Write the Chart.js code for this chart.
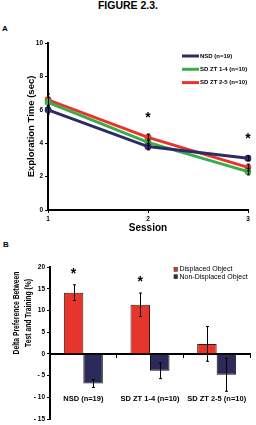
<!DOCTYPE html>
<html>
<head>
<meta charset="utf-8">
<script src="https://cdn.jsdelivr.net/npm/chart.js@4"></script>
<style>
body{margin:0;background:#fff;width:256px;height:425px;position:relative;overflow:hidden;font-family:"Liberation Sans",Arial,sans-serif}
.t{position:absolute;font-weight:bold;line-height:1;color:#000}
#wa{position:absolute;left:0;top:30px;width:256px;height:205px}
#wb{position:absolute;left:0;top:250px;width:256px;height:175px}
</style>
</head>
<body>
<div class="t" style="left:0;width:256px;top:0;text-align:center;font-size:10.5px">FIGURE 2.3.</div>
<div class="t" style="left:2px;top:25px;font-size:8px">A</div>
<div class="t" style="left:3px;top:241px;font-size:8px">B</div>
<div id="wa"><canvas id="chartA"></canvas></div>
<div id="wb"><canvas id="chartB"></canvas></div>
<script>
// panel A - exploration time per session
var sessions=['1','2','3'];
var nsdTime=[6.0,3.8,3.1];
var zt14Time=[6.45,4.05,2.3];
var zt25Time=[6.6,4.35,2.55];
var nsdTimeErr=[0.25,0.2,0.15];
var zt14TimeErr=[0.3,0.2,0.2];
var zt25TimeErr=[0.35,0.2,0.2];
var sigSessions=[1,2];

// panel B - delta preference
var groups=['NSD (n=19)','SD ZT 1-4 (n=10)','SD ZT 2-5 (n=10)'];
var displaced=[14.1,11.3,2.3];
var displacedErr=[1.8,2.7,4.0];
var nonDisplaced=[-6.8,-3.9,-4.8];
var nonDisplacedErr=[0.9,1.8,3.8];
var sigGroups=[0,1];

var navy='#2d2b66', green='#3aac48', red='#e8352c', navyBar='#2b2a58';
var FONT='"Liberation Sans", Arial, sans-serif';
Chart.defaults.font.family=FONT;
Chart.defaults.color='#000';

var errorBars={
  id:'errorBars',
  afterDatasetsDraw:function(chart){
    var ctx=chart.ctx, y=chart.scales.y;
    ctx.save();
    ctx.strokeStyle='#000';
    ctx.lineWidth=1;
    chart.data.datasets.forEach(function(ds,i){
      chart.getDatasetMeta(i).data.forEach(function(el,j){
        var v=ds.data[j], e=ds.err[j];
        var x=Math.round(el.x)+0.5;
        var y1=y.getPixelForValue(v+e), y2=y.getPixelForValue(v-e);
        ctx.beginPath();
        ctx.moveTo(x,y1);ctx.lineTo(x,y2);
        ctx.moveTo(x-1.5,y1);ctx.lineTo(x+1.5,y1);
        ctx.moveTo(x-1.5,y2);ctx.lineTo(x+1.5,y2);
        ctx.stroke();
      });
    });
    ctx.restore();
  }
};

var stars={
  id:'stars',
  afterDraw:function(chart,args,o){
    var ctx=chart.ctx, y=chart.scales.y;
    ctx.save();
    ctx.fillStyle='#000';
    ctx.font='bold '+o.size+'px '+FONT;
    ctx.textAlign='center';
    ctx.textBaseline='alphabetic';
    o.at.forEach(function(j){
      var top=Infinity;
      chart.data.datasets.forEach(function(ds,i){
        var py=y.getPixelForValue(ds.data[j]+ds.err[j]);
        if(py<top) top=py;
      });
      var x=chart.getDatasetMeta(0).data[j].x;
      ctx.fillText('*',x,top-o.gap+o.size*0.55);
    });
    ctx.restore();
  }
};

var legendBox={
  id:'legendBox',
  afterDraw:function(chart,args,o){
    var ctx=chart.ctx;
    ctx.save();
    ctx.font=o.font;
    ctx.textBaseline='middle';
    ctx.textAlign='left';
    chart.data.datasets.forEach(function(ds,i){
      var y=o.y+i*o.dy;
      if(o.type==='line'){
        ctx.strokeStyle=ds.borderColor;
        ctx.lineWidth=3;
        ctx.beginPath();ctx.moveTo(o.x,y);ctx.lineTo(o.x+o.w,y);ctx.stroke();
      }else{
        ctx.fillStyle=ds.backgroundColor;
        ctx.fillRect(o.x,y-2,o.w,4);
        ctx.strokeStyle='#333';ctx.lineWidth=0.6;
        ctx.strokeRect(o.x,y-2,o.w,4);
      }
      ctx.fillStyle='#000';
      ctx.fillText(ds.label,o.x+o.w+o.gap,y);
    });
    ctx.restore();
  }
};

var sideTitle={
  id:'sideTitle',
  afterDraw:function(chart,args,o){
    var ctx=chart.ctx;
    ctx.save();
    ctx.fillStyle='#000';
    ctx.font='bold '+o.size+'px '+FONT;
    ctx.textAlign='center';
    ctx.textBaseline='middle';
    o.lines.forEach(function(t,i){
      ctx.save();
      ctx.translate(o.x+i*o.dx,o.y);
      ctx.rotate(-Math.PI/2);
      ctx.scale(o.squeeze,1);
      ctx.fillText(t,0,0);
      ctx.restore();
    });
    ctx.restore();
  }
};

// keep long tick labels from shrinking the plot area
function noSidePad(s){s.paddingLeft=0;s.paddingRight=0;}

new Chart('chartA',{
  type:'line',
  data:{
    labels:sessions,
    datasets:[
      {label:'NSD (n=19)',data:nsdTime,err:nsdTimeErr,borderColor:navy,backgroundColor:navy},
      {label:'SD ZT 1-4 (n=10)',data:zt14Time,err:zt14TimeErr,borderColor:green,backgroundColor:green},
      {label:'SD ZT 2-5 (n=10)',data:zt25Time,err:zt25TimeErr,borderColor:red,backgroundColor:red}
    ]
  },
  options:{
    responsive:true,maintainAspectRatio:false,animation:false,
    layout:{padding:{top:13,right:8,left:0,bottom:0}},
    elements:{line:{borderWidth:3,tension:0},point:{radius:3.5,hoverRadius:3.5,borderWidth:0}},
    plugins:{
      legend:{display:false},tooltip:{enabled:false},
      stars:{at:sigSessions,gap:20,size:14},
      legendBox:{type:'line',x:182,y:26,dy:13.3,w:17,gap:1,font:'bold 6px '+FONT}
    },
    scales:{
      x:{
        offset:false,
        grid:{drawOnChartArea:false,color:'#000',tickLength:3},
        border:{color:'#000',width:2},
        ticks:{color:'#000',font:{size:6.5,weight:'bold'},padding:2,maxRotation:0},
        title:{display:true,text:'Session',color:'#000',font:{size:10,weight:'bold'},padding:{top:1,bottom:1}},
        afterFit:function(s){s.height=25;noSidePad(s);}
      },
      y:{
        min:0,max:10,
        grid:{drawOnChartArea:false,color:'#000',tickLength:3},
        border:{color:'#000',width:2},
        ticks:{stepSize:2,color:'#000',font:{size:6.5,weight:'bold'},padding:2},
        title:{display:true,text:'Exploration Time (sec)',color:'#000',font:{size:9.5,weight:'bold'},padding:{top:26,bottom:0}},
        afterFit:function(s){s.width=48;}
      }
    }
  },
  plugins:[errorBars,stars,legendBox]
});

new Chart('chartB',{
  type:'bar',
  data:{
    labels:groups,
    datasets:[
      {label:'Displaced Object',data:displaced,err:displacedErr,backgroundColor:red,borderColor:'#3a1a1a',borderWidth:1},
      {label:'Non-Displaced Object',data:nonDisplaced,err:nonDisplacedErr,backgroundColor:navyBar,borderColor:'#111',borderWidth:1}
    ]
  },
  options:{
    responsive:true,maintainAspectRatio:false,animation:false,
    layout:{padding:{top:17,right:6,left:0,bottom:4}},
    datasets:{bar:{categoryPercentage:0.585,barPercentage:1}},
    plugins:{
      legend:{display:false},tooltip:{enabled:false},
      stars:{at:sigGroups,gap:15,size:14},
      legendBox:{type:'box',x:174,y:19.3,dy:7.4,w:3.5,gap:2,font:'7px '+FONT},
      sideTitle:{lines:['Delta Preference Between','Test and Training (%)'],x:17,dx:12,y:63,size:9,squeeze:0.75}
    },
    scales:{
      x:{
        position:{y:0},
        grid:{drawOnChartArea:false,color:'#000',tickLength:3},
        border:{color:'#000',width:2},
        ticks:{color:'#000',font:{size:7.5,weight:'bold'},padding:38,maxRotation:0,autoSkip:false},
        afterFit:noSidePad
      },
      y:{
        min:-15,max:20,
        grid:{drawOnChartArea:false,color:'#000',tickLength:3},
        border:{color:'#000',width:2},
        ticks:{stepSize:5,color:'#000',font:{size:6.5,weight:'bold'},padding:2,
          callback:function(v){return v<0?'- '+Math.abs(v):String(v);}},
        afterFit:function(s){s.width=50;}
      }
    }
  },
  plugins:[errorBars,stars,legendBox,sideTitle]
});
</script>
</body>
</html>
